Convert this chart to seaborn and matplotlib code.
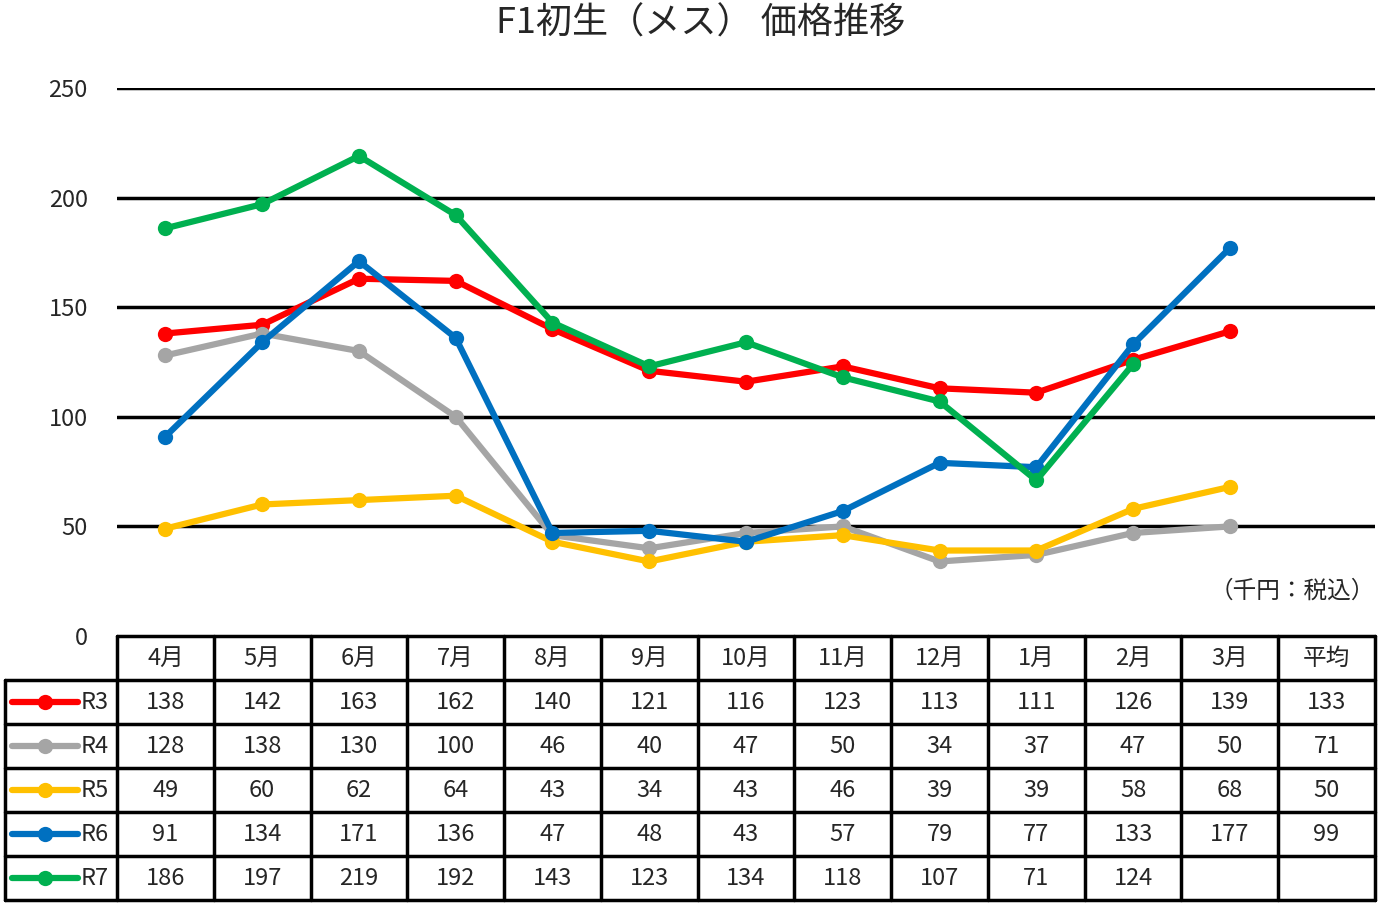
import matplotlib
matplotlib.use("Agg")
import matplotlib.pyplot as plt
import seaborn as sns
import pandas as pd

# Data
months = ["4月", "5月", "6月", "7月", "8月", "9月", "10月", "11月", "12月", "1月", "2月", "3月"]
avg_label = "平均"
series_names = ["R3", "R4", "R5", "R6", "R7"]
r3 = [138, 142, 163, 162, 140, 121, 116, 123, 113, 111, 126, 139]
r4 = [128, 138, 130, 100, 46, 40, 47, 50, 34, 37, 47, 50]
r5 = [49, 60, 62, 64, 43, 34, 43, 46, 39, 39, 58, 68]
r6 = [91, 134, 171, 136, 47, 48, 43, 57, 79, 77, 133, 177]
r7 = [186, 197, 219, 192, 143, 123, 134, 118, 107, 71, 124]
averages = [133, 71, 50, 99, None]
yticks = [0, 50, 100, 150, 200, 250]
colors = ["#FF0000", "#A5A5A5", "#FFC000", "#0070C0", "#00B050"]

values = [r3, r4, r5, r6, r7]
rows = []
for name, vals in zip(series_names, values):
    for i, v in enumerate(vals):
        rows.append({"series": name, "pos": i, "value": v})
df = pd.DataFrame(rows)

sns.set_theme(style="white")
plt.rcParams["font.family"] = ["Noto Sans CJK JP", "DejaVu Sans"]

W, H = 1382, 906
fig = plt.figure(figsize=(W / 100, H / 100), dpi=100)

# chart area
ax = fig.add_axes([117 / W, 1 - 636 / H, 1258 / W, 548 / H])
ncols = len(months) + 1
for y in yticks[1:]:
    ax.axhline(y, color="black", lw=2.5, zorder=1)
sns.lineplot(data=df, x="pos", y="value", hue="series", palette=colors,
             marker="o", markersize=11, markeredgewidth=0, linewidth=4.5,
             legend=False, ax=ax, zorder=3)
ax.set_xlim(-0.5, ncols - 0.5)
ax.set_ylim(0, 250)
ax.set_yticks(yticks)
ax.set_yticklabels([str(t) for t in yticks], fontsize=17)
ax.tick_params(axis="y", length=0, pad=21)
ax.set_xticks([])
ax.set_xlabel("")
ax.set_ylabel("")
for s in ax.spines.values():
    s.set_visible(False)
ax.text(1.0, 0.082, "（千円：税込）", transform=ax.transAxes, ha="right", va="center", fontsize=17)
fig.text(0.507, 1 - 24 / H, "F1初生（メス） 価格推移", ha="center", va="center", fontsize=26)

# data table
leg_w = 112 / (1258 / ncols)
tax = fig.add_axes([5 / W, 1 - 900 / H, 1370 / W, 264 / H])
tax.set_xlim(-leg_w, ncols)
tax.set_ylim(len(series_names) + 1, 0)
tax.axis("off")
lw = 2.5
nrows = len(series_names) + 1
# horizontal lines
tax.plot([0, ncols], [0, 0], color="black", lw=lw, clip_on=False)
for r in range(1, nrows + 1):
    tax.plot([-leg_w, ncols], [r, r], color="black", lw=lw, clip_on=False)
# vertical lines
tax.plot([-leg_w, -leg_w], [1, nrows], color="black", lw=lw, clip_on=False)
for c in range(ncols + 1):
    tax.plot([c, c], [0, nrows], color="black", lw=lw, clip_on=False)

header = months + [avg_label]
for c, lab in enumerate(header):
    tax.text(c + 0.5, 0.52, lab, ha="center", va="center", fontsize=17)
for r, (name, vals, avg, col) in enumerate(zip(series_names, values, averages, colors), start=1):
    x0 = -leg_w + 0.07
    x1 = -leg_w + 0.75
    tax.plot([x0, x1], [r + 0.5, r + 0.5], color=col, lw=4.5, solid_capstyle="round")
    tax.plot([(x0 + x1) / 2], [r + 0.5], "o", color=col, markersize=11, markeredgewidth=0)
    tax.text(x1 + 0.03, r + 0.52, name, ha="left", va="center", fontsize=17)
    cells = list(vals) + [None] * (len(months) - len(vals)) + [avg]
    for c, v in enumerate(cells):
        if v is not None:
            tax.text(c + 0.5, r + 0.52, str(v), ha="center", va="center", fontsize=17)

fig.savefig("out.png", dpi=100)
